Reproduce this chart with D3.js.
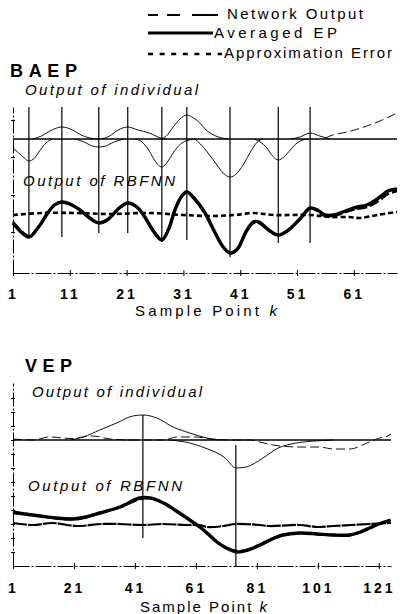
<!DOCTYPE html>
<html>
<head>
<meta charset="utf-8">
<script src="https://cdn.jsdelivr.net/npm/d3@7"></script>
<style>
    body { margin: 0; background: #fff; }
    svg text { font-family: "Liberation Sans", Arial, sans-serif; fill: #000; }
</style>
</head>
<body>
<div id="chart"></div>
<script>
/* * * * * * * * * * * * * *
*     BAEP / VEP RBFNN plots     *
* * * * * * * * * * * * * */

// ---- BAEP data (k = sample point, values in arbitrary units) ----
const baepXTicks = [1, 11, 21, 31, 41, 51, 61];
const baepYTicks = [-1.8, 1.9, 5.7, 9.4];

// output of each hidden unit (drawn on the upper baseline)
const baepUnits = [
    [[1, -0.9], [2, -1.4], [3, -1.9], [3.8, -2.2], [4.8, -1.9], [5.8, -1.1], [6.8, -0.4], [8, 0]],
    [[4.5, 0], [6, 0.3], [7.5, 0.8], [9.6, 1.2], [11.5, 0.9], [13, 0.4], [14.5, 0.1], [16, 0]],
    [[12, 0], [13.5, -0.3], [15, -0.7], [16.1, -0.8], [17.3, -0.7], [18.8, -0.3], [20.5, 0]],
    [[16.5, 0], [18, 0.3], [19.5, 0.9], [21.2, 1.2], [23, 0.9], [25, 0.6], [27, 0.1], [28, 0]],
    [[22.5, 0], [23.5, -0.2], [25, -1.2], [26, -2.2], [27.2, -2.8], [28.3, -2.2], [29.3, -1.3], [30.5, -0.5], [32, -0.1], [33, 0]],
    [[27, 0], [28, 0.3], [29.2, 1.2], [30.4, 2.0], [31.6, 2.4], [32.8, 2.1], [33.9, 1.6], [35, 0.9], [36, 0.5], [37.4, 0.15], [39, 0]],
    [[33, 0], [34, -0.5], [35.2, -1.3], [36.9, -2.6], [38, -3.4], [39.2, -3.8], [40.3, -3.5], [41.5, -2.6], [42.8, -1.3], [44, -0.3], [45, 0]],
    [[43.5, 0], [44.5, -0.3], [45.7, -0.9], [46.7, -1.7], [47.7, -2.1], [48.7, -1.8], [49.8, -1.1], [50.8, -0.5], [52, -0.1], [53, 0]],
    [[50, 0], [51.5, 0.2], [53.3, 0.6], [55, 0.3], [56.8, 0]]
];
const baepDashedUnits = [
    [[56, 0.1], [57.3, 0.4], [59.8, 0.7], [63.3, 1.3], [66, 1.9], [68.6, 2.6]]
];
// centres of the units: [k, top, bottom]
const baepCentres = [
    [3.8, 10.7, -2.3], [9.6, 10.7, -2.3], [16.1, 10.7, -1.9], [21.2, 10.7, -1.9], [27.2, 10.7, -2.8],
    [31.6, 10.7, -2.6], [39.2, 10.7, -4.3], [47.7, 10.7, -2.9], [53.3, 10.7, -2.9]
];
const baepAveraged = [
    [1, -0.9], [3.8, -2.3], [5.5, -1.3], [7, 0.0], [8.3, 0.9], [9.6, 1.2], [11, 1.0], [12.8, 0.4], [14.5, -0.4],
    [16.1, -0.9], [17.8, -0.5], [19.5, 0.5], [21.2, 1.1], [22.8, 0.7], [24.2, -0.3], [25.7, -1.7], [27.2, -2.6],
    [28.4, -1.5], [29.5, 0.4], [30.6, 1.7], [31.6, 2.2], [33, 1.5], [34.8, 0.1], [36.5, -1.8], [38, -3.3],
    [39.2, -3.9], [40.5, -3.5], [42, -1.8], [43.3, -0.8], [44.3, -0.8], [46, -1.6], [47.7, -2.1], [49.5, -1.6],
    [51.5, -0.5], [53.3, 0.6], [54.6, 0.4], [55.9, -0.1], [57.5, -0.1], [59.5, 0.3], [61.6, 0.7], [63.3, 0.9],
    [65.6, 1.7], [67, 2.3], [68.6, 2.5]
];
const baepNetwork = [
    [1, -0.8], [3.8, -2.2], [5.5, -1.3], [7, 0.0], [8.3, 0.9], [9.6, 1.2], [11, 1.0], [12.8, 0.4], [14.5, -0.4],
    [16.1, -0.9], [17.8, -0.5], [19.5, 0.5], [21.2, 1.1], [22.8, 0.7], [24.2, -0.3], [25.7, -1.7], [27.2, -2.6],
    [28.4, -1.5], [29.5, 0.4], [30.6, 1.7], [31.6, 2.2], [33, 1.5], [34.8, 0.1], [36.5, -1.8], [38, -3.3],
    [39.2, -3.9], [40.5, -3.5], [42, -1.8], [43.3, -0.9], [44.3, -0.9], [46, -1.6], [47.7, -2.1], [49.5, -1.6],
    [51.5, -0.5], [53.3, 0.6], [54.6, 0.3], [55.9, -0.2], [57.5, -0.2], [59.5, 0.2], [61.6, 0.5], [63.3, 0.7],
    [65.6, 1.4], [67, 2.0], [68.6, 2.3]
];
const baepError = [
    [1, -0.1], [6, 0.1], [12, 0.1], [18, 0], [25, 0.1], [31, -0.1], [36, -0.2], [40, -0.1], [43.3, 0.1],
    [47, -0.1], [53.3, -0.1], [56.7, -0.3], [60.2, -0.3], [62.1, -0.4], [65.1, -0.1], [68.6, 0.2]
];

// ---- VEP data ----
const vepXTicks = [1, 21, 41, 61, 81, 101, 121];
const vepYTicks = [-2.7, -1.3, 0.1, 1.5, 2.9, 4.3, 5.7, 7.1, 8.5, 9.9, 11.3, 12.7];

const vepUnits = [
    [[20, 0], [24, 0.3], [29.5, 1.0], [35, 1.7], [40.3, 2.4], [43.6, 2.5], [48.2, 2.2], [53.5, 1.3], [59, 0.7], [64.6, 0.2], [69, 0]],
    [[52, 0], [57.5, -0.2], [64, -0.8], [70.6, -1.8], [74.1, -2.8], [77.5, -2.7], [83, -1.8], [88, -0.8], [94, -0.3], [100, -0.1], [106, 0]]
];
const vepDashedUnits = [
    [[1, 0.1], [7.6, 0], [13, 0.3], [20, 0.15], [27, 0.4], [33, 0.1], [40, 0], [50, 0], [55, 0.3], [61, 0.3], [66, 0.1],
     [72, 0], [78.7, 0], [82, -0.2], [86.2, -0.5], [95, -0.7], [101.7, -0.7], [105.9, -0.9], [111.5, -0.9],
     [117.1, -0.3], [121.3, 0.2], [123.9, 0.4], [125, 0.6]]
];
const vepCentres = [[43.6, 11.0, -1.3], [74.1, 8.0, -4.1]];
const vepAveraged = [
    [1, 1.3], [5, 1.1], [9.9, 0.9], [15, 0.7], [20.7, 0.6], [25, 0.8], [29.5, 1.2], [36.1, 1.8], [42.6, 2.7],
    [46, 2.7], [48.2, 2.5], [51, 2.1], [54.1, 1.5], [58, 0.7], [62.3, -0.2], [65, -0.9], [67.9, -1.7], [71, -2.3],
    [74.4, -2.7], [78, -2.5], [82, -2.0], [86, -1.4], [89.5, -1.0], [95.1, -0.8], [100.7, -0.9], [106, -1.0],
    [111.5, -1.0], [115, -0.7], [118, -0.3], [121, 0.1], [124.9, 0.5]
];
const vepNetwork = [
    [1, 1.2], [5, 1.1], [9.9, 0.9], [15, 0.7], [20.7, 0.6], [25, 0.8], [29.5, 1.2], [36.1, 1.8], [42.6, 2.6],
    [46, 2.7], [48.2, 2.5], [51, 2.1], [54.1, 1.5], [58, 0.7], [62.3, -0.2], [65, -0.9], [67.9, -1.7], [71, -2.3],
    [74.4, -2.6], [78, -2.5], [82, -2.0], [86, -1.4], [89.5, -1.0], [95.1, -0.8], [100.7, -0.9], [106, -1.0],
    [111.5, -1.0], [115, -0.7], [118, -0.3], [121, 0.1], [124.9, 0.4]
];
const vepError = [
    [1, 0.2], [7.6, 0], [14, 0.2], [22, -0.1], [30, 0.1], [36, 0.1], [43.6, 0], [50, 0.1], [58, 0], [62.3, 0],
    [64.6, -0.2], [70, -0.1], [74, 0.1], [82, 0], [85, -0.1], [95, 0], [101, -0.2], [106, -0.1], [112, 0],
    [118, 0.1], [125, 0.2]
];


class EpPanel {

    constructor(svg, opts) {
        this.svg = svg;
        this.opts = opts;
        this.initVis();
    }

    initVis() {
        let vis = this;
        let o = vis.opts;

        vis.x = d3.scaleLinear().domain(o.xDomain).range(o.xRange);
        vis.y = d3.scaleLinear().domain(o.yDomain).range(o.yRange);

        vis.g = vis.svg.append("g");

        // axes (dash-dot look of the scanned figure)
        vis.xAxis = d3.axisBottom(vis.x)
            .tickValues(o.xTicks)
            .tickSizeInner(3)
            .tickSizeOuter(0)
            .tickFormat(d3.format("d"));

        let xg = vis.g.append("g")
            .attr("class", "x-axis")
            .attr("transform", "translate(0," + o.yRange[0] + ")")
            .call(vis.xAxis);
        xg.select(".domain").attr("stroke-dasharray", "16,2,2,2");
        xg.selectAll(".tick line").attr("y1", -3);
        xg.selectAll(".tick text")
            .attr("y", o.tickLabelY)
            .attr("dy", 0)
            .attr("font-size", 14)
            .attr("font-weight", "bold")
            .attr("letter-spacing", 3)
            .attr("font-family", "Liberation Sans, Arial, sans-serif");

        vis.yAxis = d3.axisLeft(vis.y)
            .tickValues(o.yTicks)
            .tickSizeInner(2)
            .tickSizeOuter(0)
            .tickFormat("");

        let yg = vis.g.append("g")
            .attr("class", "y-axis")
            .attr("transform", "translate(" + o.xRange[0] + ",0)")
            .call(vis.yAxis);
        yg.select(".domain").attr("stroke-dasharray", "14,2,2,2");
        yg.selectAll(".tick line").attr("x1", 2);

        vis.updateVis();
    }

    updateVis() {
        let vis = this;
        let o = vis.opts;

        let upper = d3.line()
            .x(d => vis.x(d[0]))
            .y(d => vis.y(d[1] + o.topOffset))
            .curve(d3.curveMonotoneX);

        let lower = d3.line()
            .x(d => vis.x(d[0]))
            .y(d => vis.y(d[1]))
            .curve(d3.curveCatmullRom.alpha(0.5));

        // individual unit outputs
        vis.g.selectAll(".unit")
            .data(o.units)
            .enter().append("path")
            .attr("class", "unit")
            .attr("d", upper)
            .attr("fill", "none")
            .attr("stroke", "#111")
            .attr("stroke-width", 1);

        vis.g.selectAll(".unit-dashed")
            .data(o.dashedUnits)
            .enter().append("path")
            .attr("class", "unit-dashed")
            .attr("d", upper)
            .attr("fill", "none")
            .attr("stroke", "#111")
            .attr("stroke-width", 1)
            .attr("stroke-dasharray", "9,4");

        // baseline of the upper plot
        vis.g.append("line")
            .attr("x1", vis.x(o.xDomain[0]))
            .attr("x2", vis.x(o.xDomain[1]))
            .attr("y1", vis.y(o.topOffset))
            .attr("y2", vis.y(o.topOffset))
            .attr("stroke", "#000")
            .attr("stroke-width", 1.3);

        // centre markers
        vis.g.selectAll(".centre")
            .data(o.centres)
            .enter().append("line")
            .attr("class", "centre")
            .attr("x1", d => vis.x(d[0]))
            .attr("x2", d => vis.x(d[0]))
            .attr("y1", d => vis.y(d[1]))
            .attr("y2", d => vis.y(d[2]))
            .attr("stroke", "#000")
            .attr("stroke-width", 1.2);

        // approximation error
        vis.g.append("path")
            .datum(o.error)
            .attr("d", lower)
            .attr("fill", "none")
            .attr("stroke", "#000")
            .attr("stroke-width", o.errWidth)
            .attr("stroke-dasharray", o.errDash);

        // network output and averaged EP
        vis.g.append("path")
            .datum(o.network)
            .attr("d", lower)
            .attr("fill", "none")
            .attr("stroke", "#000")
            .attr("stroke-width", 2.5)
            .attr("stroke-dasharray", "10,3");

        vis.g.append("path")
            .datum(o.averaged)
            .attr("d", lower)
            .attr("fill", "none")
            .attr("stroke", "#000")
            .attr("stroke-width", 3.4)
            .attr("stroke-linejoin", "round");

        // labels, stretched to the widths seen in the figure
        vis.g.append("text")
            .attr("x", o.title[1])
            .attr("y", o.title[2])
            .attr("font-size", 18)
            .attr("font-weight", "bold")
            .attr("textLength", o.title[3])
            .attr("lengthAdjust", "spacing")
            .text(o.title[0]);

        vis.g.selectAll(".sub-label")
            .data(o.subLabels)
            .enter().append("text")
            .attr("class", "sub-label")
            .attr("x", d => d[1])
            .attr("y", d => d[2])
            .attr("font-size", 15)
            .attr("font-style", "italic")
            .attr("textLength", d => d[3])
            .attr("lengthAdjust", "spacing")
            .text(d => d[0]);

        let xt = vis.g.append("text")
            .attr("x", o.xTitle[0])
            .attr("y", o.xTitle[1])
            .attr("font-size", 15)
            .attr("textLength", o.xTitle[2])
            .attr("lengthAdjust", "spacing");
        xt.append("tspan").text("Sample Point ");
        xt.append("tspan").attr("font-style", "italic").text("k");
    }
}

let svg = d3.select("#chart").append("svg")
    .attr("width", 406)
    .attr("height", 614);

// legend
let legend = svg.append("g").attr("class", "legend");
let legendItems = [
    {label: "Network Output", dash: "10,9,13,12,26", width: 2, x2: 218, y: 15, tx: 227, ty: 19, len: 136},
    {label: "Averaged EP", dash: null, width: 3, x2: 213, y: 33, tx: 214, ty: 38, len: 123},
    {label: "Approximation Error", dash: "5,6.6", width: 2.5, x2: 222, y: 54, tx: 224, ty: 58, len: 168}
];
legendItems.forEach(function(d) {
    legend.append("line")
        .attr("x1", 148).attr("x2", d.x2)
        .attr("y1", d.y).attr("y2", d.y)
        .attr("stroke", "#000")
        .attr("stroke-width", d.width)
        .attr("stroke-dasharray", d.dash);
    legend.append("text")
        .attr("x", d.tx).attr("y", d.ty)
        .attr("font-size", 15)
        .attr("textLength", d.len)
        .attr("lengthAdjust", "spacing")
        .text(d.label);
});

new EpPanel(svg, {
    xDomain: [1, 68.6], xRange: [13, 397],
    yDomain: [-5.9, 10.7], yRange: [273, 107],
    topOffset: 7.5,
    xTicks: baepXTicks, yTicks: baepYTicks,
    units: baepUnits, dashedUnits: baepDashedUnits, centres: baepCentres,
    averaged: baepAveraged, network: baepNetwork, error: baepError,
    errWidth: 2.6, errDash: "5,3",
    tickLabelY: 26,
    title: ["BAEP", 10, 77, 67],
    subLabels: [["Output of individual", 25, 95, 173], ["Output of RBFNN", 23, 186, 152]],
    xTitle: [135, 316, 142]
});

new EpPanel(svg, {
    xDomain: [1, 125], xRange: [13, 391],
    yDomain: [-4.1, 14.2], yRange: [566, 383],
    topOffset: 8.5,
    xTicks: vepXTicks, yTicks: vepYTicks,
    units: vepUnits, dashedUnits: vepDashedUnits, centres: vepCentres,
    averaged: vepAveraged, network: vepNetwork, error: vepError,
    errWidth: 2.2, errDash: "14,1",
    tickLabelY: 27,
    title: ["VEP", 25, 372, 47],
    subLabels: [["Output of individual", 32, 397, 170], ["Output of RBFNN", 28, 491, 154]],
    xTitle: [140, 612, 127]
});
</script>
</body>
</html>
